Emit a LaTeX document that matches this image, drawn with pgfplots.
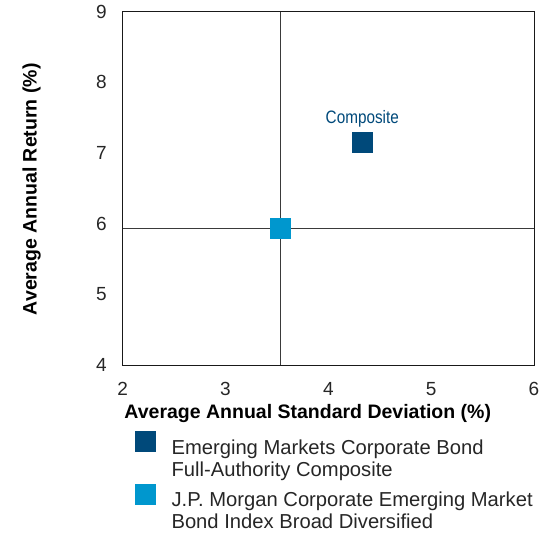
\documentclass[border=0pt]{standalone}
\usepackage{pgfplots}
\pgfplotsset{compat=1.18}
\usepackage{fontspec}
\setmainfont{Liberation Sans}
\definecolor{navy}{HTML}{00497A}
\definecolor{lblue}{HTML}{0097CE}
\definecolor{cross}{HTML}{3A3A3A}
\newcommand{\twoline}[2]{\vtop{\baselineskip=22pt\hbox{#1}\hbox{#2}}}
\begin{document}
\begin{tikzpicture}
\useasboundingbox (0,0) rectangle (542pt,535pt);
\begin{axis}[
  at={(122.7pt,170pt)}, anchor=south west,
  scale only axis, width=411.3pt, height=353.5pt,
  xmin=2, xmax=6, ymin=4, ymax=9,
  xtick={2,3,4,5,6}, ytick={4,5,6,7,8,9},
  major tick length=0pt,
  axis line style={black!90, line width=0.9pt},
  /pgf/number format/assume math mode=true,
  tick label style={font=\fontsize{19}{22}\selectfont, text=black!85},
  xticklabel style={yshift=-13.5pt},
  yticklabel style={xshift=-12.5pt},
  xlabel={Average Annual Standard Deviation (\%)},
  ylabel={Average Annual Return (\%)},
  label style={font=\bfseries\fontsize{19.5}{22}\selectfont},
  xlabel style={at={(axis description cs:0.45,-0.137)}, anchor=center},
  ylabel style={at={(axis description cs:-0.2213,0.497)}, anchor=center},
  clip=false,
  legend style={at={(axis description cs:0.030,-0.1880)}, anchor=north west,
    draw=none, fill=none, inner sep=0pt, outer sep=0pt,
    font=\fontsize{20.2}{22}\selectfont, row sep=28.5pt,
    nodes={inner sep=0pt, text=black!85}, column sep=0pt},
  legend cell align=left,
  legend image code/.code={\draw[#1] plot coordinates {(10pt,6pt)}; \path (0pt,0pt) (36.5pt,0pt);},
]
\addplot[cross, line width=0.9pt, forget plot] coordinates {(3.537,4) (3.537,9)};
\addplot[cross, line width=0.9pt, forget plot] coordinates {(2,5.93) (6,5.93)};
\addplot[only marks, mark=square*, mark size=10pt, draw=none, fill=navy, mark options={draw=navy, fill=navy, line width=0pt}] coordinates {(4.33,7.15)};
\addlegendentry{\twoline{Emerging Markets Corporate Bond}{Full-Authority Composite}}
\addplot[only marks, mark=square*, mark size=10pt, draw=none, fill=lblue, mark options={draw=lblue, fill=lblue, line width=0pt}] coordinates {(3.537,5.93)};
\addlegendentry{\twoline{J.P. Morgan Corporate Emerging Market}{Bond Index Broad Diversified}}
\node[text=navy, font=\fontsize{18}{20}\selectfont, anchor=center, yshift=23pt] at (axis cs:4.33,7.15) {\scalebox{0.85}[1]{Composite}};
\end{axis}
\end{tikzpicture}
\end{document}
